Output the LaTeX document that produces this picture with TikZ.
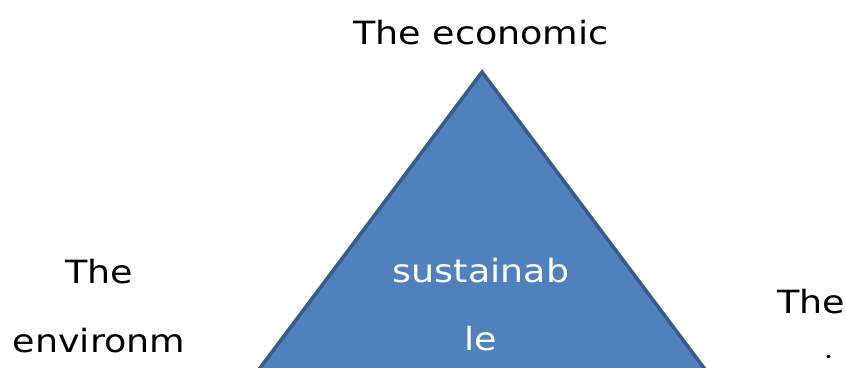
\documentclass[tikz,border=0pt]{standalone}
\usepackage{fontspec}
\setmainfont{DejaVu Sans}[FakeStretch=1.14]
\definecolor{triFill}{HTML}{4F81BD}
\definecolor{triLine}{HTML}{385D8A}
\begin{document}
\begin{tikzpicture}[x=1pt,y=-1pt,
  lbl/.style={anchor=base, inner sep=0pt, font=\fontsize{32}{38}\selectfont},
  wlbl/.style={lbl, text=white}]
\useasboundingbox (0,0) rectangle (846,367);
\begin{scope}
  \clip (0,0) rectangle (846,367);
  \path[fill=triFill, draw=triLine, line width=3.5pt, line join=miter]
    (482,72) -- (842,552) -- (122,552) -- cycle;
  \fill[black] (828.5,356.5) ellipse (2pt and 1.5pt);
\end{scope}
\node[lbl] (eco) at (481,44) {The economic};
\node[lbl] (env1) at (99,283) {The};
\node[lbl] (env2) at (99,352) {environm};
\node[lbl] (soc1) at (811,313) {The};
\node[wlbl] (sus1) at (481,282) {sustainab};
\node[wlbl] (sus2) at (481,350) {le};
\end{tikzpicture}
\end{document}
